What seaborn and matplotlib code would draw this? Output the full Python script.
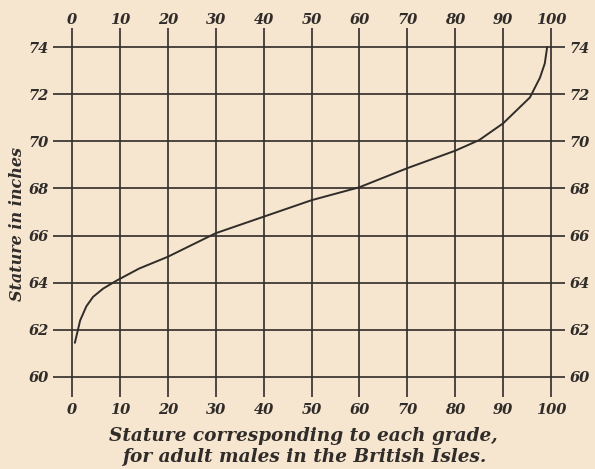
import matplotlib
matplotlib.use("Agg")
import matplotlib.pyplot as plt
import pandas as pd
import seaborn as sns

grade = [0.6, 1.7, 3.0, 4.4, 6.5, 9.4, 14, 20, 30, 40, 50, 60, 70, 80,
         85, 90, 95.6, 97.7, 98.7, 99.2]
stature = [61.45, 62.4, 63.0, 63.4, 63.75, 64.1, 64.6, 65.1, 66.1, 66.8,
           67.5, 68.05, 68.86, 69.6, 70.05, 70.76, 71.86, 72.7, 73.3, 74.0]

x_ticks = [0, 10, 20, 30, 40, 50, 60, 70, 80, 90, 100]
y_ticks = [60, 62, 64, 66, 68, 70, 72, 74]

paper = "#f6e5cf"
ink = "#302c29"

sns.set_theme(style="white")
plt.rcParams["font.family"] = ["DejaVu Serif"]

df = pd.DataFrame({"grade": grade, "stature": stature})

fig = plt.figure(figsize=(5.95, 4.69), dpi=100, facecolor=paper)
ax = fig.add_axes([53 / 595, 72 / 469, 512 / 595, 369 / 469])
ax.set_facecolor(paper)

sns.lineplot(data=df, x="grade", y="stature", ax=ax, color=ink,
             linewidth=1.4, sort=False)

ax.set_xlim(-100 * 19 / 479, 100 + 100 * 14 / 479)
ax.set_ylim(60 - 20 / 23.57, 74 + 19 / 23.57)
ax.set_xticks(x_ticks)
ax.set_yticks(y_ticks)
ax.grid(True, color=ink, linewidth=1.2)
for s in ax.spines.values():
    s.set_visible(False)

ax.tick_params(axis="both", length=0, labelsize=10.5, colors=ink,
               right=True, labelright=True)
ax.tick_params(axis="x", pad=4)
ax.tick_params(axis="y", pad=3)

top = ax.secondary_xaxis("top")
top.set_xticks(x_ticks)
top.tick_params(length=0, pad=1, labelsize=10.5, colors=ink)
top.spines["top"].set_visible(False)

for t in (ax.get_xticklabels() + ax.get_yticklabels()
          + top.get_xticklabels()):
    t.set_fontweight("bold")
    t.set_fontstyle("italic")
ax.set_xlabel("")
ax.set_ylabel("")

fig.text(18 / 595, 1 - 224 / 469, "Stature in inches", rotation=90,
         ha="center", va="center", fontsize=11.5, fontweight="bold",
         fontstyle="italic", color=ink)
fig.text(303 / 595, 1 - 436 / 469, "Stature corresponding to each grade,",
         ha="center", va="center", fontsize=13.3, fontweight="bold",
         fontstyle="italic", color=ink)
fig.text(304 / 595, 1 - 457 / 469, "for adult males in the British Isles.",
         ha="center", va="center", fontsize=13.3, fontweight="bold",
         fontstyle="italic", color=ink)

fig.savefig("out.png", dpi=100, facecolor=paper)
